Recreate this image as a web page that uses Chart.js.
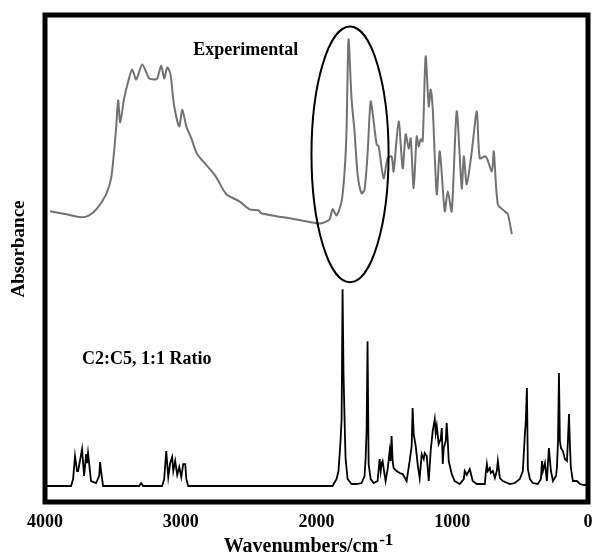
<!DOCTYPE html>
<html>
<head>
<meta charset="utf-8">
<title>IR spectra</title>
<script src="https://cdn.jsdelivr.net/npm/chart.js@4/dist/chart.umd.min.js"></script>
<style>
  html, body { margin: 0; padding: 0; background: #fff; }
  #wrap { width: 592px; height: 558px; }
</style>
</head>
<body>
<div id="wrap"><canvas id="spectra"></canvas></div>
<script>
// Experimental spectrum (upper trace), wavenumber / absorbance (arb. units)
var expWavenumber = [3963, 3845, 3734, 3675, 3616, 3550, 3513, 3491, 3476, 3461, 3446, 3417, 3387, 3358, 3328, 3284,
  3232, 3196, 3173, 3144, 3122, 3100, 3077, 3048, 3011, 2989, 2959, 2922, 2878, 2790, 2738, 2664, 2568, 2494, 2428,
  2406, 2295, 2199, 2000, 1963, 1904, 1882, 1852, 1815, 1793, 1779, 1764, 1742, 1720, 1697, 1668, 1646, 1624, 1601,
  1579, 1557, 1542, 1506, 1476, 1447, 1432, 1395, 1365, 1343, 1321, 1306, 1284, 1262, 1247, 1233, 1218, 1196, 1173,
  1159, 1144, 1114, 1092, 1055, 1033, 1004, 967, 930, 915, 893, 856, 819, 797, 753, 708, 694, 664, 613, 590, 561];
var expAbsorbance = [58.2, 57.6, 57.0, 57.4, 58.8, 61.6, 64.8, 70.2, 74.8, 80.4, 76.0, 80.8, 84.2, 86.6, 84.6, 87.6,
  84.8, 84.6, 84.8, 87.4, 84.8, 87.0, 85.8, 79.2, 75.2, 78.6, 75.2, 72.8, 69.6, 66.8, 65.0, 61.6, 60.2, 58.6, 58.4,
  57.8, 57.2, 56.8, 55.8, 55.8, 56.6, 58.6, 57.4, 60.2, 66.2, 74.2, 92.6, 80.8, 74.2, 65.6, 61.8, 62.6, 69.6, 80.2,
  76.2, 71.6, 71.2, 64.8, 68.8, 69.2, 66.2, 76.2, 66.8, 73.6, 70.8, 72.8, 62.8, 73.2, 71.2, 72.6, 72.2, 89.2, 79.2,
  82.6, 78.8, 61.6, 70.2, 58.2, 62.2, 58.2, 78.2, 62.8, 69.2, 63.6, 70.2, 78.2, 68.8, 69.2, 66.2, 70.2, 59.6, 58.2, 57.6, 53.6];

// Calculated spectrum, C2:C5 1:1 ratio (lower trace)
var calcWavenumber = [4000, 3808, 3793, 3779, 3764, 3756, 3727, 3712, 3697, 3690, 3683, 3661, 3624, 3601, 3594, 3587,
  3572, 3306, 3292, 3277, 3137, 3122, 3107, 3092, 3078, 3063, 3055, 3041, 3026, 3011, 2996, 2982, 2967, 2959, 2945,
  1882, 1852, 1838, 1823, 1815, 1808, 1801, 1793, 1786, 1771, 1742, 1705, 1668, 1646, 1638, 1631, 1624, 1616, 1601,
  1579, 1550, 1535, 1527, 1520, 1513, 1498, 1491, 1476, 1461, 1454, 1447, 1439, 1432, 1410, 1387, 1365, 1336, 1314,
  1299, 1292, 1284, 1269, 1255, 1240, 1225, 1210, 1203, 1188, 1173, 1159, 1144, 1129, 1122, 1114, 1100, 1085, 1077,
  1070, 1063, 1048, 1041, 1033, 1026, 1004, 982, 945, 915, 908, 893, 871, 849, 819, 760, 753, 745, 738, 723, 716,
  701, 686, 672, 664, 649, 627, 576, 539, 502, 480, 465, 458, 450, 443, 428, 406, 369, 347, 339, 332, 317, 303, 288,
  273, 258, 236, 229, 221, 214, 207, 199, 185, 170, 155, 148, 140, 133, 126, 111, 81, 59, 30, 0];
var calcAbsorbance = [3.2, 3.2, 4.6, 9.2, 6.2, 6.2, 10.6, 5.2, 9.6, 7.8, 9.8, 4.2, 3.8, 5.2, 8.0, 6.2,
  3.2, 3.2, 3.8, 3.2, 3.2, 4.6, 10.2, 5.0, 7.8, 9.0, 6.2, 8.2, 5.4, 7.0, 5.0, 7.6, 7.6, 4.6, 3.2,
  3.2, 4.6, 6.2, 12.2, 16.6, 42.6, 25.8, 16.2, 8.8, 4.6, 3.6, 3.6, 3.8, 5.2, 8.8, 14.2, 32.2, 7.6, 4.6,
  3.8, 4.2, 8.6, 6.2, 7.8, 8.2, 5.4, 4.2, 6.6, 10.2, 8.2, 13.2, 8.2, 6.8, 6.2, 5.8, 5.6, 4.2, 8.2,
  11.2, 18.8, 13.6, 11.2, 7.6, 4.8, 9.6, 8.6, 9.8, 9.2, 4.2, 10.2, 14.2, 16.6, 13.8, 15.2, 11.6, 12.6, 14.8,
  7.6, 10.8, 12.2, 15.8, 12.2, 8.2, 5.6, 4.2, 3.6, 4.6, 6.2, 5.4, 6.6, 4.2, 3.6, 3.6, 5.8, 7.6, 6.2, 6.8, 5.8,
  6.2, 4.8, 6.2, 8.2, 4.8, 4.2, 3.6, 3.8, 4.6, 6.2, 13.6, 16.2, 22.8, 6.6, 4.6, 3.8, 3.6, 4.6, 8.2, 6.2, 7.8, 4.2, 10.8,
  6.2, 4.2, 5.2, 6.8, 12.2, 25.8, 12.2, 10.8, 10.2, 8.6, 8.2, 12.2, 17.6, 11.2, 6.8, 4.2, 4.2, 3.6, 3.4, 3.4];

// x tick values
var xTicks = [4000, 3000, 2000, 1000, 0];

// labels placed in data units (wavenumber, absorbance)
var traceLabels = [
  { text: "Experimental", x: 2908, y: 89.4 },
  { text: "C2:C5, 1:1 Ratio", x: 3727, y: 27.6 }
];
// the ellipse round the carbonyl region: centre and half widths in data units
var ringCentre = [1753, 69.6];
var ringRadius = [284, 25.6];

var serif = '"Liberation Serif", "DejaVu Serif", serif';

function pairs(xs, ys) {
  var out = [];
  for (var i = 0; i < xs.length; i++) out.push({ x: xs[i], y: ys[i] });
  return out;
}

var decorations = {
  id: "decorations",
  afterDraw: function(chart) {
    var ctx = chart.ctx;
    var a = chart.chartArea;
    var xs = chart.scales.x, ys = chart.scales.y;
    ctx.save();

    // labels for each trace
    ctx.fillStyle = "#000";
    ctx.font = "bold 18px " + serif;
    ctx.textBaseline = "alphabetic";
    ctx.textAlign = "left";
    traceLabels.forEach(function(l) {
      ctx.fillText(l.text, xs.getPixelForValue(l.x), ys.getPixelForValue(l.y));
    });

    // ellipse
    var cx = xs.getPixelForValue(ringCentre[0]);
    var cy = ys.getPixelForValue(ringCentre[1]);
    var rx = Math.abs(xs.getPixelForValue(ringCentre[0] + ringRadius[0]) - cx);
    var ry = Math.abs(ys.getPixelForValue(ringCentre[1] + ringRadius[1]) - cy);
    ctx.beginPath();
    ctx.ellipse(cx, cy, rx, ry, 0, 0, Math.PI * 2);
    ctx.lineWidth = 2;
    ctx.strokeStyle = "#000";
    ctx.stroke();

    // frame
    ctx.lineWidth = 5;
    ctx.strokeRect(a.left, a.top, a.right - a.left, a.bottom - a.top);

    // x title with superscript
    var main = "Wavenumbers/cm";
    ctx.font = "bold 20px " + serif;
    var w1 = ctx.measureText(main).width;
    ctx.font = "bold 17px " + serif;
    var w2 = ctx.measureText("-1").width;
    var startX = 308 - (w1 + w2) / 2;
    ctx.font = "bold 20px " + serif;
    ctx.fillText(main, startX, 552);
    ctx.font = "bold 17px " + serif;
    ctx.fillText("-1", startX + w1 + 1, 545);

    // y title
    ctx.translate(19, 249);
    ctx.rotate(-Math.PI / 2);
    ctx.textAlign = "center";
    ctx.textBaseline = "middle";
    ctx.font = "bold 19px " + serif;
    ctx.fillText("Absorbance", 0, 0);
    ctx.restore();
  }
};

var myChart = new Chart(document.getElementById("spectra"), {
  type: "line",
  data: {
    datasets: [{
      label: "Experimental",
      data: pairs(expWavenumber, expAbsorbance),
      borderColor: "#727272",
      borderWidth: 2,
      pointRadius: 0,
      tension: 0.25,
      fill: false
    }, {
      label: "C2:C5, 1:1 Ratio",
      data: pairs(calcWavenumber, calcAbsorbance),
      borderColor: "#000",
      borderWidth: 1.8,
      pointRadius: 0,
      tension: 0,
      fill: false
    }]
  },
  options: {
    responsive: true,
    maintainAspectRatio: false,
    animation: false,
    layout: { padding: { left: 45, right: 4, top: 15, bottom: 22 } },
    plugins: {
      legend: { display: false },
      tooltip: { enabled: false }
    },
    scales: {
      x: {
        type: "linear",
        reverse: true,
        min: 0,
        max: 4000,
        grid: { display: false, drawTicks: false },
        border: { display: false },
        afterBuildTicks: function(scale) {
          scale.ticks = xTicks.map(function(v) { return { value: v }; });
        },
        afterFit: function(scale) {
          // keep the plot box fixed, labels may hang over the edges
          scale.paddingLeft = 0;
          scale.paddingRight = 0;
          scale.height = 34;
        },
        ticks: {
          padding: 10,
          color: "#000",
          maxRotation: 0,
          font: { family: serif, size: 18, weight: "bold" },
          callback: function(v) { return String(v); }
        }
      },
      y: {
        display: false,
        min: 0,
        max: 97.5
      }
    }
  },
  plugins: [decorations]
});
</script>
</body>
</html>
